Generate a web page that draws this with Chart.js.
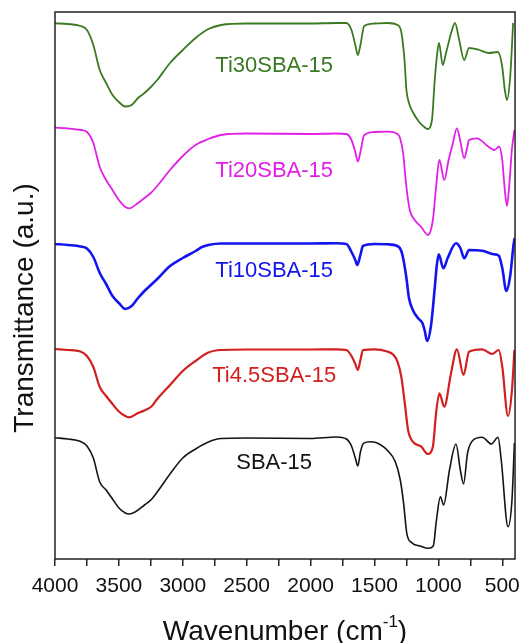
<!DOCTYPE html>
<html>
<head>
<meta charset="utf-8">
<script src="https://cdn.jsdelivr.net/npm/chart.js@4.4.0/dist/chart.umd.min.js"></script>
<style>
  html, body { margin: 0; padding: 0; background: #fff; }
</style>
</head>
<body>
<canvas id="ftirChart" width="528" height="643"></canvas>
<script>
// FTIR spectra, stacked (transmittance in arbitrary units incl. offset)
var sbaWn = [4000, 3900, 3800, 3750, 3700, 3650, 3600, 3550, 3500, 3450, 3420, 3370, 3300, 3250, 3200,
    3100, 3000, 2900, 2800, 2700, 2500, 2000, 1800, 1720, 1680, 1650, 1630, 1610, 1586, 1535,
    1483, 1431, 1402, 1337, 1298, 1272, 1247, 1208, 1143, 1078, 1040, 1015, 984, 959, 913,
    862, 828, 803, 772, 733, 657, 585, 533, 508, 455, 424, 405];
var sbaT = [121.3, 120, 117.5, 113, 101, 77, 69, 60, 51, 46, 45, 47.3, 54, 59, 67,
    85, 101, 110, 117, 120.5, 121, 120.5, 122, 120, 113, 101, 93, 107, 115.7, 117.3,
    116.3, 112.3, 109, 97.3, 79, 55.7, 25.7, 16.3, 13, 10.7, 13, 39, 62.3, 54, 89,
    115, 89, 75, 105.7, 118.3, 121.7, 115, 121.7, 99, 32.3, 59, 116];

var ti45Wn = [4000, 3900, 3800, 3750, 3700, 3650, 3600, 3550, 3500, 3450, 3420, 3350, 3300, 3250, 3200,
    3100, 3000, 2900, 2800, 2700, 2500, 2000, 1800, 1720, 1680, 1650, 1630, 1610, 1590, 1500,
    1400, 1350, 1320, 1290, 1263, 1237, 1200, 1134, 1082, 1043, 1018, 992, 954, 901, 855,
    803, 760, 657, 579, 527, 500, 455, 424, 405];
var ti45T = [210, 209, 207.5, 203, 192, 172, 163, 155, 147.5, 143, 141.7, 146, 148.5, 152, 160,
    174, 188, 198, 206.5, 209, 209.5, 209.5, 209.7, 209, 203, 195, 189, 199, 209, 209.7,
    207.5, 204, 197.3, 182.3, 156, 129, 117.3, 112.3, 105, 112.3, 145.7, 165.7, 152.3, 185.7, 209.7,
    184, 207.3, 209.7, 205, 209, 192.3, 143, 169, 209];

var ti10Wn = [4000, 3900, 3800, 3750, 3700, 3650, 3600, 3550, 3500, 3450, 3400, 3350, 3300, 3250, 3200,
    3100, 3000, 2900, 2850, 2800, 2700, 2500, 2000, 1800, 1720, 1680, 1650, 1635, 1610, 1590,
    1500, 1400, 1320, 1290, 1270, 1250, 1230, 1200, 1160, 1125, 1108, 1088, 1057, 1031, 1012,
    997, 961, 927, 862, 828, 797, 760, 657, 566, 527, 500, 468, 437, 412, 403];
var ti10T = [315, 314, 312.5, 310.5, 302, 286, 275, 263, 256, 250, 253, 261, 268, 274, 280,
    293, 301, 308, 312, 314, 315.5, 315.5, 315.5, 315.7, 315, 307, 299, 294, 304, 313,
    315, 314.7, 313, 308, 297, 281, 261, 249, 241, 236, 229, 218, 234, 267.3, 294,
    304.7, 290.7, 301, 315.7, 311, 300.7, 309, 308.3, 304.7, 303.3, 291, 268, 284, 314, 321];

var ti20Wn = [4000, 3900, 3800, 3750, 3700, 3650, 3600, 3550, 3500, 3450, 3420, 3350, 3300, 3250, 3200,
    3100, 3000, 2900, 2800, 2700, 2500, 2000, 1800, 1720, 1680, 1650, 1630, 1610, 1580, 1500,
    1400, 1320, 1300, 1276, 1250, 1224, 1185, 1134, 1082, 1043, 1018, 992, 954, 920, 890,
    855, 830, 798, 775, 760, 700, 605, 560, 525, 500, 480, 463, 445, 425, 405];
var ti20T = [431.3, 430.5, 429, 427, 416, 392, 379, 369, 359, 352, 350.7, 356, 361, 366, 373,
    389, 403, 414, 420, 424, 425.5, 425, 425.5, 425, 419, 407, 397.3, 407, 424, 427,
    427.3, 425, 421, 406, 372, 349, 339, 332, 324, 339, 372, 399, 379, 399, 414,
    430.7, 419, 400.7, 411, 419, 420.7, 412, 409, 412.5, 399, 369, 353, 374, 409, 429];

var ti30Wn = [4000, 3900, 3800, 3750, 3700, 3650, 3600, 3550, 3500, 3450, 3400, 3350, 3300, 3250, 3200,
    3100, 3000, 2900, 2800, 2700, 2500, 2000, 1800, 1720, 1680, 1650, 1630, 1610, 1580, 1500,
    1400, 1320, 1290, 1265, 1250, 1230, 1200, 1150, 1110, 1085, 1050, 1030, 1012, 995, 966,
    940, 900, 870, 837, 798, 760, 680, 605, 535, 500, 480, 463, 438, 415];
var ti30T = [535.7, 535, 533, 529, 514, 489, 476, 464, 457, 452.5, 454, 461, 466, 472, 479,
    496, 509, 521, 530, 534, 535.5, 535.5, 536, 536, 529, 514, 504, 514, 533, 535.5,
    536, 534, 527, 499, 469, 456, 447, 437, 432, 430, 439, 476, 502, 516, 494,
    506, 526, 536, 519, 499, 511, 509, 506, 507, 492, 469, 459, 482, 536];

var sampleNames = ["SBA-15", "Ti4.5SBA-15", "Ti10SBA-15", "Ti20SBA-15", "Ti30SBA-15"];
var xTicks = [4000, 3750, 3500, 3250, 3000, 2750, 2500, 2250, 2000, 1750, 1500, 1250, 1000, 750, 500];

var colors = ["#141414", "#d21f1f", "#1414f0", "#e21fe6", "#3b7a21"];
var widths = [1.6, 2.2, 2.6, 1.8, 1.8];
var FONT = '"Liberation Sans", Arial, sans-serif';

// where the sample names sit (wavenumber, a.u.)
var labelWn = 2285;
var labelT = [96.5, 183.5, 288.5, 388.5, 493.5];

function pairs(wn, t) {
    return wn.map(function(w, i) { return { x: w, y: t[i] }; });
}

var spectra = [
    pairs(sbaWn, sbaT),
    pairs(ti45Wn, ti45T),
    pairs(ti10Wn, ti10T),
    pairs(ti20Wn, ti20T),
    pairs(ti30Wn, ti30T)
];

var decor = {
    id: 'decor',
    afterDatasetsDraw: function(chart) {
        var ctx = chart.ctx;
        var a = chart.chartArea;
        var x = chart.scales.x, y = chart.scales.y;
        ctx.save();

        // frame
        ctx.strokeStyle = '#222';
        ctx.lineWidth = 1.5;
        ctx.strokeRect(a.left, a.top, a.right - a.left, a.bottom - a.top);

        // sample names
        ctx.font = '22px ' + FONT;
        ctx.textAlign = 'center';
        ctx.textBaseline = 'middle';
        sampleNames.forEach(function(name, i) {
            ctx.fillStyle = colors[i];
            ctx.fillText(name, x.getPixelForValue(labelWn), y.getPixelForValue(labelT[i]));
        });

        // x title with superscript
        ctx.fillStyle = '#111';
        ctx.textAlign = 'left';
        ctx.textBaseline = 'alphabetic';
        var big = '28px ' + FONT, small = '17px ' + FONT;
        ctx.font = big;
        var w1 = ctx.measureText('Wavenumber (cm').width;
        var w3 = ctx.measureText(')').width;
        ctx.font = small;
        var w2 = ctx.measureText('-1').width;
        var x0 = (a.left + a.right) / 2 - (w1 + w2 + w3) / 2;
        ctx.font = big;
        ctx.fillText('Wavenumber (cm', x0, 640);
        ctx.font = small;
        ctx.fillText('-1', x0 + w1, 627);
        ctx.font = big;
        ctx.fillText(')', x0 + w1 + w2, 640);

        // y title
        ctx.translate(33, 308);
        ctx.rotate(-Math.PI / 2);
        ctx.textAlign = 'center';
        ctx.fillText('Transmittance (a.u.)', 0, 0);

        ctx.restore();
    }
};

var ctx = document.getElementById("ftirChart").getContext("2d");

new Chart(ctx, {
    type: 'line',
    data: {
        datasets: spectra.map(function(pts, i) {
            return {
                label: sampleNames[i],
                data: pts,
                borderColor: colors[i],
                borderWidth: widths[i],
                pointRadius: 0,
                fill: false,
                cubicInterpolationMode: 'monotone'
            };
        })
    },
    options: {
        responsive: false,
        animation: false,
        layout: { padding: { left: 55, right: 8, top: 12, bottom: 0 } },
        plugins: {
            legend: { display: false },
            tooltip: { enabled: false }
        },
        scales: {
            x: {
                type: 'linear',
                reverse: true,
                min: 400,
                max: 4000,
                afterBuildTicks: function(s) {
                    s.ticks = xTicks.map(function(v) { return { value: v }; });
                },
                afterFit: function(s) { s.height = 84; },
                ticks: {
                    autoSkip: false,
                    maxRotation: 0,
                    padding: 8,
                    color: '#111',
                    font: { family: FONT, size: 21 },
                    callback: function(v) { return v % 500 === 0 ? v : ''; }
                },
                grid: {
                    drawOnChartArea: false,
                    drawTicks: true,
                    tickLength: 7,
                    color: '#222',
                    lineWidth: 1.5
                },
                border: { display: false }
            },
            y: {
                display: false,
                min: 0,
                max: 547
            }
        }
    },
    plugins: [decor]
});
</script>
</body>
</html>
